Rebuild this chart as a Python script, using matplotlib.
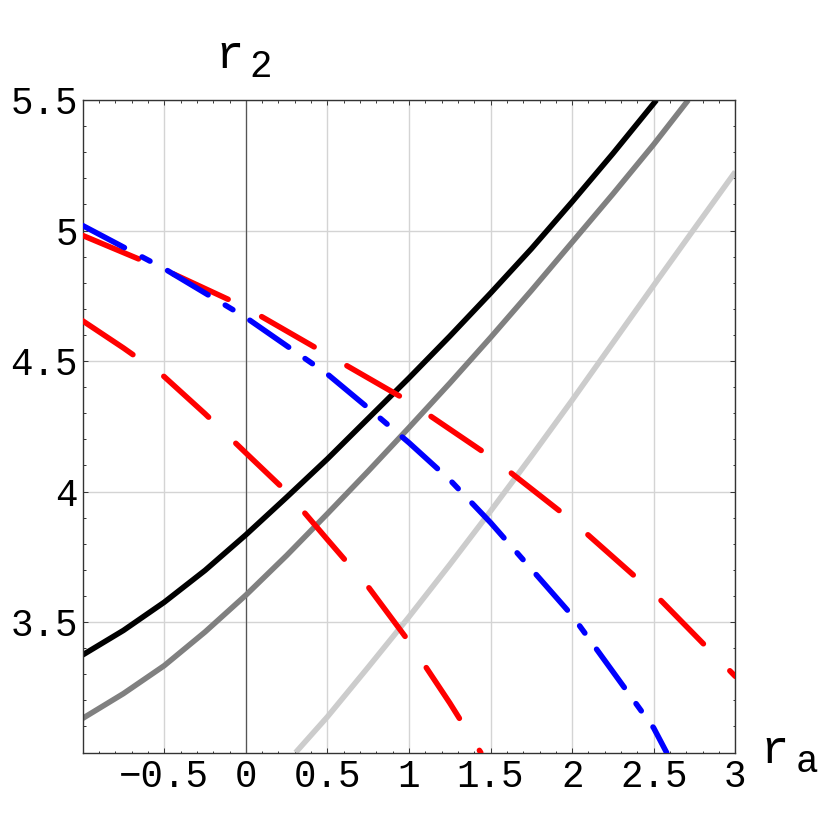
import matplotlib.pyplot as plt
from matplotlib.ticker import FixedLocator, MultipleLocator

# curves (x = r_a, y = r_2)
black_x = [-1, -0.75, -0.5, -0.25, 0, 0.25, 0.5, 0.75, 1, 1.25, 1.5, 1.75, 2, 2.25, 2.5, 2.517]
black_y = [3.374, 3.468, 3.576, 3.698, 3.834, 3.978, 4.125, 4.28, 4.435, 4.595, 4.76, 4.93, 5.11, 5.295, 5.487, 5.5]

gray_x = [-1, -0.75, -0.5, -0.25, 0, 0.25, 0.5, 0.75, 1, 1.25, 1.5, 1.75, 2, 2.25, 2.5, 2.712]
gray_y = [3.131, 3.226, 3.333, 3.462, 3.603, 3.755, 3.915, 4.078, 4.245, 4.415, 4.59, 4.77, 4.955, 5.14, 5.33, 5.5]

light_x = [0.305, 0.5, 0.75, 1, 1.25, 1.5, 1.75, 2, 2.25, 2.5, 2.75, 3]
light_y = [3.0, 3.137, 3.327, 3.52, 3.72, 3.925, 4.135, 4.35, 4.57, 4.79, 5.008, 5.225]

blue_x = [-1, -0.5, 0, 0.5, 0.75, 1, 1.25, 1.5, 2, 2.5, 2.579]
blue_y = [5.019, 4.854, 4.667, 4.45, 4.32, 4.187, 4.045, 3.881, 3.525, 3.094, 3.0]

red1_x = [-1, -0.5, 0, 0.5, 1, 1.5, 2, 2.5, 3]
red1_y = [4.981, 4.85, 4.705, 4.525, 4.345, 4.133, 3.888, 3.611, 3.292]

red2_x = [-1, -0.75, -0.5, -0.25, 0, 0.25, 0.5, 0.75, 1, 1.25, 1.44]
red2_y = [4.654, 4.55, 4.44, 4.298, 4.148, 3.999, 3.816, 3.635, 3.425, 3.19, 3.0]

xticks = [-0.5, 0, 0.5, 1, 1.5, 2, 2.5, 3]
xticklabels = ['\u22120.5', '0', '0.5', '1', '1.5', '2', '2.5', '3']
yticks = [3.5, 4, 4.5, 5, 5.5]
yticklabels = ['3.5', '4', '4.5', '5', '5.5']

plt.rcParams['font.family'] = ['Liberation Mono', 'DejaVu Sans Mono']

fig = plt.figure(figsize=(8.3, 8.3), dpi=100)
ax = fig.add_axes([0.0996, 0.0933, 0.7863, 0.7862])
ax.set_xlim(-1, 3)
ax.set_ylim(3, 5.5)

ax.xaxis.set_major_locator(FixedLocator(xticks))
ax.set_xticklabels(xticklabels)
ax.yaxis.set_major_locator(FixedLocator(yticks))
ax.set_yticklabels(yticklabels)
ax.xaxis.set_minor_locator(MultipleLocator(0.1))
ax.yaxis.set_minor_locator(MultipleLocator(0.1))

ax.tick_params(which='both', direction='in', top=True, right=True,
               width=0.7, color='#333333')
ax.tick_params(which='major', length=3.6, labelsize=27)
ax.tick_params(which='minor', length=1.8)
ax.tick_params(axis='x', pad=4.5)
ax.tick_params(axis='y', pad=3.4)
for s in ax.spines.values():
    s.set_color('#333333')
    s.set_linewidth(1.0)

ax.set_axisbelow(True)
ax.grid(True, which='major', color='#d4d4d4', lw=1.0)
ax.axvline(0, color='#555555', lw=0.9, zorder=1.5)

lw = 4.0
ax.plot(black_x, black_y, color='black', lw=lw, solid_capstyle='butt',
        solid_joinstyle='round', zorder=2)
ax.plot(gray_x, gray_y, color='#808080', lw=lw, solid_capstyle='butt',
        solid_joinstyle='round', zorder=2)
ax.plot(light_x, light_y, color='#cccccc', lw=lw, solid_capstyle='butt',
        solid_joinstyle='round', zorder=2)
ax.plot(red1_x, red1_y, color='red', lw=lw, dashes=[10.9, 6.8],
        dash_capstyle='round', zorder=3)
ax.plot(red2_x, red2_y, color='red', lw=lw, dashes=[10.9, 6.8],
        dash_capstyle='round', zorder=3)
ax.plot(blue_x, blue_y, color='blue', lw=lw, dashes=[8.5, 3.6, 1.6, 3.6],
        dash_capstyle='round', zorder=4)

# axis labels
fig.text(0.259, 0.918, 'r', fontsize=34, ha='left', va='baseline')
fig.text(0.301, 0.907, '2', fontsize=27, ha='left', va='baseline')
fig.text(0.916, 0.0807, 'r', fontsize=34, ha='left', va='baseline')
fig.text(0.958, 0.0699, 'a', fontsize=27, ha='left', va='baseline')

fig.savefig('out.png', dpi=100, facecolor='white')
